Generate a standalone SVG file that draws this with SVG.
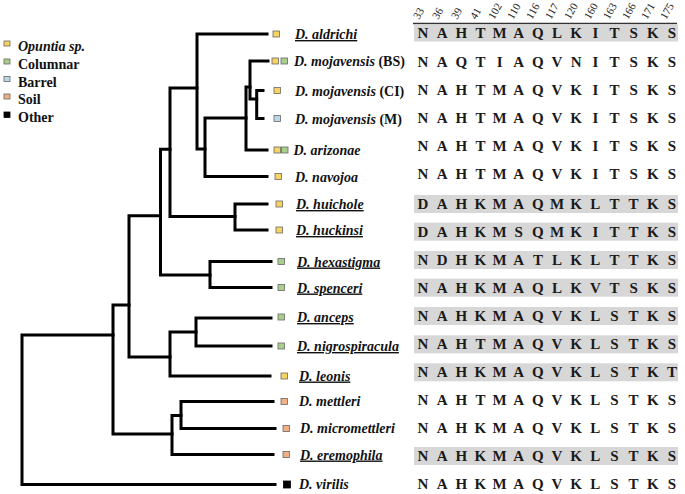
<svg xmlns="http://www.w3.org/2000/svg" width="685" height="494" viewBox="0 0 685 494">
<style>
.tree{fill:none;stroke:#000;stroke-width:3;stroke-linecap:square;stroke-linejoin:miter}
.lab{font-family:"Liberation Serif","Times New Roman",serif;font-size:14px;font-weight:bold;font-style:italic;fill:#111}
.u{text-decoration:underline}
.up{font-style:normal}
.leg{font-family:"Liberation Serif","Times New Roman",serif;font-size:14px;font-weight:bold;fill:#111}
.seq{font-family:"Liberation Serif","Times New Roman",serif;font-size:15px;font-weight:bold;fill:#1a1a1a;text-anchor:middle}
.num{font-family:"Liberation Serif","Times New Roman",serif;font-size:11px;fill:#222}
.band{fill:#d7d7d7}
.sq{stroke:#666;stroke-width:0.8}
.op{fill:#f7d462}.co{fill:#a9cf8c}.ba{fill:#bcd6ea}.so{fill:#f2b084}.ot{fill:#000;stroke:#000}
</style>

<g id="legend">
<rect class="sq op" x="4" y="41" width="6" height="5"/>
<text class="leg" x="18" y="51" font-style="italic">Opuntia sp.</text>
<rect class="sq co" x="4" y="59" width="6" height="5"/>
<text class="leg" x="18" y="68.5">Columnar</text>
<rect class="sq ba" x="4" y="76.5" width="6" height="5"/>
<text class="leg" x="18" y="86.5">Barrel</text>
<rect class="sq so" x="4" y="94" width="6" height="5"/>
<text class="leg" x="18" y="104">Soil</text>
<rect class="sq ot" x="4" y="112" width="6" height="5.5"/>
<text class="leg" x="18" y="121.5">Other</text>
</g>

<g id="header">
<text class="num" transform="translate(419,20) rotate(-60)">33</text>
<text class="num" transform="translate(438,20) rotate(-60)">36</text>
<text class="num" transform="translate(457,20) rotate(-60)">39</text>
<text class="num" transform="translate(476,20) rotate(-60)">41</text>
<text class="num" transform="translate(494,20) rotate(-60)">102</text>
<text class="num" transform="translate(513,20) rotate(-60)">110</text>
<text class="num" transform="translate(532,20) rotate(-60)">116</text>
<text class="num" transform="translate(551,20) rotate(-60)">117</text>
<text class="num" transform="translate(570,20) rotate(-60)">120</text>
<text class="num" transform="translate(590,20) rotate(-60)">160</text>
<text class="num" transform="translate(609,20) rotate(-60)">163</text>
<text class="num" transform="translate(628,20) rotate(-60)">166</text>
<text class="num" transform="translate(647,20) rotate(-60)">171</text>
<text class="num" transform="translate(666,20) rotate(-60)">175</text>
<line x1="413" y1="23.5" x2="677" y2="23.5" stroke="#333" stroke-width="1.5"/>
</g>

<g id="connectors">
<path class="tree" d="M22,335V484.5M22,335H113M22,484.5H275"/>
<path class="tree" d="M113,305V434M113,305H129M113,434H172"/>
<path class="tree" d="M129,215.7V357M129,215.7H160.5M129,357H170"/>
<path class="tree" d="M160.5,149.3V275M160.5,149.3H170M160.5,275H210"/>
<path class="tree" d="M170,88V216.5M170,88H197M170,216.5H235"/>
<path class="tree" d="M197,34V149M197,34H267M197,149H205"/>
<path class="tree" d="M205,118V176.5M205,118H246M205,176.5H267"/>
<path class="tree" d="M246,87V150M246,87H250M246,150H267"/>
<path class="tree" d="M250,61V99M250,61H268M250,99H256.7"/>
<path class="tree" d="M256.7,90.5V118.5M256.7,90.5H263M256.7,118.5H263"/>
<path class="tree" d="M235,204V230M235,204H267M235,230H267"/>
<path class="tree" d="M210,261.5V287.5M210,261.5H271M210,287.5H271"/>
<path class="tree" d="M170,332V376M170,332H196M170,376H270"/>
<path class="tree" d="M196,318V346M196,318H271M196,346H271"/>
<path class="tree" d="M172,415.5V454.5M172,415.5H181M172,454.5H273"/>
<path class="tree" d="M181,401.5V428.5M181,401.5H273M181,428.5H275"/>
</g>

<g id="aldrichi">
<rect class="sq op" x="273" y="31" width="6.5" height="6"/>
<text class="lab u" x="295" y="39">D. aldrichi</text>
<rect class="band" x="414" y="24.5" width="264" height="17"/>
<text class="seq" x="423 442.1 461.3 480.4 499.6 518.7 537.9 557 576.2 595.3 614.5 633.6 652.8 671.9" y="38">NAHTMAQLKITSKS</text>
</g>

<g id="mojavensis-bs">
<rect class="sq op" x="272" y="58" width="6.5" height="6"/>
<rect class="sq co" x="281" y="58" width="6.5" height="6"/>
<text class="lab" x="294" y="66">D. mojavensis<tspan class="up"> (BS)</tspan></text>
<text class="seq" x="423 442.1 461.3 480.4 499.6 518.7 537.9 557 576.2 595.3 614.5 633.6 652.8 671.9" y="66.7">NAQTIAQVNITSKS</text>
</g>

<g id="mojavensis-ci">
<rect class="sq op" x="274" y="87.5" width="6.5" height="6"/>
<text class="lab" x="295" y="95.5">D. mojavensis<tspan class="up"> (CI)</tspan></text>
<text class="seq" x="423 442.1 461.3 480.4 499.6 518.7 537.9 557 576.2 595.3 614.5 633.6 652.8 671.9" y="95">NAHTMAQVKITSKS</text>
</g>

<g id="mojavensis-m">
<rect class="sq ba" x="274" y="115.5" width="6.5" height="6"/>
<text class="lab" x="295" y="123.5">D. mojavensis<tspan class="up"> (M)</tspan></text>
<text class="seq" x="423 442.1 461.3 480.4 499.6 518.7 537.9 557 576.2 595.3 614.5 633.6 652.8 671.9" y="122.7">NAHTMAQVKITSKS</text>
</g>

<g id="arizonae">
<rect class="sq op" x="274" y="147" width="6.5" height="6"/>
<rect class="sq co" x="281.5" y="147" width="6.5" height="6"/>
<text class="lab" x="293.5" y="155">D. arizonae</text>
<text class="seq" x="423 442.1 461.3 480.4 499.6 518.7 537.9 557 576.2 595.3 614.5 633.6 652.8 671.9" y="151">NAHTMAQVKITSKS</text>
</g>

<g id="navojoa">
<rect class="sq op" x="275" y="173.5" width="6.5" height="6"/>
<text class="lab" x="295" y="181.5">D. navojoa</text>
<text class="seq" x="423 442.1 461.3 480.4 499.6 518.7 537.9 557 576.2 595.3 614.5 633.6 652.8 671.9" y="178.5">NAHTMAQVKITSKS</text>
</g>

<g id="huichole">
<rect class="sq op" x="276" y="201" width="6.5" height="6"/>
<text class="lab u" x="296" y="209">D. huichole</text>
<rect class="band" x="414" y="195" width="264" height="18"/>
<text class="seq" x="423 442.1 461.3 480.4 499.6 518.7 537.9 557 576.2 595.3 614.5 633.6 652.8 671.9" y="208.5">DAHKMAQMKLTTKS</text>
</g>

<g id="huckinsi">
<rect class="sq op" x="276" y="227" width="6.5" height="6"/>
<text class="lab u" x="296" y="235">D. huckinsi</text>
<rect class="band" x="414" y="222.7" width="264" height="18"/>
<text class="seq" x="423 442.1 461.3 480.4 499.6 518.7 537.9 557 576.2 595.3 614.5 633.6 652.8 671.9" y="236.7">DAHKMSQMKITTKS</text>
</g>

<g id="hexastigma">
<rect class="sq co" x="278" y="258.5" width="6.5" height="6"/>
<text class="lab u" x="297" y="266.5">D. hexastigma</text>
<rect class="band" x="414" y="251" width="264" height="18"/>
<text class="seq" x="423 442.1 461.3 480.4 499.6 518.7 537.9 557 576.2 595.3 614.5 633.6 652.8 671.9" y="265">NDHKMATLKLTTKS</text>
</g>

<g id="spenceri">
<rect class="sq co" x="278" y="284.5" width="6.5" height="6"/>
<text class="lab u" x="297" y="292.5">D. spenceri</text>
<rect class="band" x="414" y="278.7" width="264" height="18"/>
<text class="seq" x="423 442.1 461.3 480.4 499.6 518.7 537.9 557 576.2 595.3 614.5 633.6 652.8 671.9" y="292.7">NAHKMAQLKVTSKS</text>
</g>

<g id="anceps">
<rect class="sq co" x="278" y="314" width="6.5" height="6"/>
<text class="lab u" x="297" y="322">D. anceps</text>
<rect class="band" x="414" y="307" width="264" height="18"/>
<text class="seq" x="423 442.1 461.3 480.4 499.6 518.7 537.9 557 576.2 595.3 614.5 633.6 652.8 671.9" y="321">NAHKMAQVKLSTKS</text>
</g>

<g id="nigrospiracula">
<rect class="sq co" x="278" y="343" width="6.5" height="6"/>
<text class="lab u" x="297" y="351">D. nigrospiracula</text>
<rect class="band" x="414" y="335.3" width="264" height="18"/>
<text class="seq" x="423 442.1 461.3 480.4 499.6 518.7 537.9 557 576.2 595.3 614.5 633.6 652.8 671.9" y="349.3">NAHTMAQVKLSTKS</text>
</g>

<g id="leonis">
<rect class="sq op" x="281" y="373" width="6.5" height="6"/>
<text class="lab u" x="299" y="380.5">D. leonis</text>
<rect class="band" x="414" y="363.3" width="264" height="18"/>
<text class="seq" x="423 442.1 461.3 480.4 499.6 518.7 537.9 557 576.2 595.3 614.5 633.6 652.8 671.9" y="377.3">NAHKMAQVKLSTKT</text>
</g>

<g id="mettleri">
<rect class="sq so" x="281" y="398.5" width="6.5" height="6"/>
<text class="lab" x="299" y="406">D. mettleri</text>
<text class="seq" x="423 442.1 461.3 480.4 499.6 518.7 537.9 557 576.2 595.3 614.5 633.6 652.8 671.9" y="405">NAHTMAQVKLSTKS</text>
</g>

<g id="micromettleri">
<rect class="sq so" x="283" y="425.5" width="6.5" height="6"/>
<text class="lab" x="300" y="433">D. micromettleri</text>
<text class="seq" x="423 442.1 461.3 480.4 499.6 518.7 537.9 557 576.2 595.3 614.5 633.6 652.8 671.9" y="433">NAHKMAQVKLSTKS</text>
</g>

<g id="eremophila">
<rect class="sq so" x="283" y="451.5" width="6.5" height="6"/>
<text class="lab u" x="300" y="459.5">D. eremophila</text>
<rect class="band" x="414" y="447" width="264" height="18"/>
<text class="seq" x="423 442.1 461.3 480.4 499.6 518.7 537.9 557 576.2 595.3 614.5 633.6 652.8 671.9" y="461">NAHKMAQVKLSTKS</text>
</g>

<g id="virilis">
<rect class="sq ot" x="283.5" y="481" width="7" height="7"/>
<text class="lab" x="299" y="489">D. virilis</text>
<text class="seq" x="423 442.1 461.3 480.4 499.6 518.7 537.9 557 576.2 595.3 614.5 633.6 652.8 671.9" y="489">NAHKMAQVKLSTKS</text>
</g>
</svg>
